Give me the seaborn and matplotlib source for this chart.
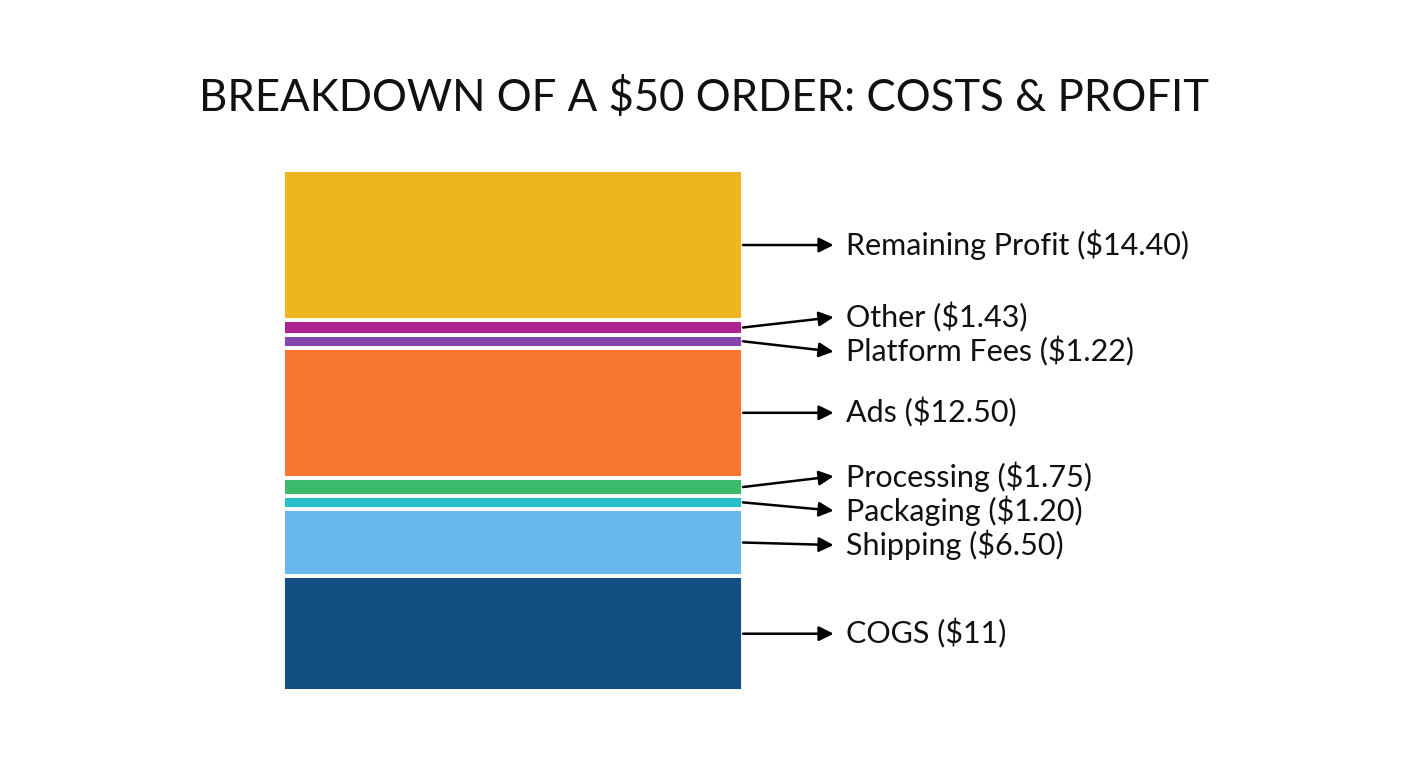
import matplotlib
matplotlib.use("Agg")
import matplotlib.pyplot as plt
import seaborn as sns

# bottom to top
segments = ["COGS", "Shipping", "Packaging", "Processing", "Ads",
            "Platform Fees", "Other", "Remaining Profit"]
amounts = [11, 6.50, 1.20, 1.75, 12.50, 1.22, 1.43, 14.40]
amount_labels = ["$11", "$6.50", "$1.20", "$1.75", "$12.50", "$1.22", "$1.43", "$14.40"]
colors = ["#124E82", "#68B8EC", "#27BFC8", "#3BBA6B", "#F77730",
          "#8446A8", "#AD2390", "#EDB51E"]

sns.set_theme(style="white")
plt.rcParams['font.family'] = ['Lato', 'DejaVu Sans']

fig = plt.figure(figsize=(14.08, 7.68), dpi=100)
ax = fig.add_axes([283 / 1408, 77 / 768, 460 / 1408, 521 / 768])

bottom = 0
centers = []
for name, val, col in zip(segments, amounts, colors):
    sns.barplot(x=[0], y=[val], bottom=bottom, color=col, width=1,
                edgecolor="white", linewidth=2.8, saturation=1, ax=ax)
    centers.append(bottom + val / 2)
    bottom += val

ax.set_xlim(-0.5, 0.5)
ax.set_ylim(0, sum(amounts))
ax.axis("off")

# spread label positions so the small segments don't collide
label_y = list(centers)
gap = 3.3
for _ in range(200):
    for i in range(1, len(label_y)):
        d = label_y[i] - label_y[i - 1]
        if d < gap:
            shift = (gap - d) / 2
            label_y[i - 1] -= shift
            label_y[i] += shift

for name, lab, c, ly in zip(segments, amount_labels, centers, label_y):
    ax.annotate("", xy=(0.697, ly), xytext=(0.5, c),
                arrowprops=dict(arrowstyle="-|>", color="black", lw=1.8,
                                mutation_scale=22, shrinkA=0, shrinkB=0),
                annotation_clip=False)
    ax.text(0.725, ly, f"{name} ({lab})", fontsize=22, va="center",
            ha="left", color="#111111", clip_on=False)

fig.text(0.5, 0.872, "BREAKDOWN OF A $50 ORDER: COSTS & PROFIT",
         ha="center", va="center", fontsize=31.5, color="#111111")

fig.savefig("out.png", dpi=100, facecolor="white")
